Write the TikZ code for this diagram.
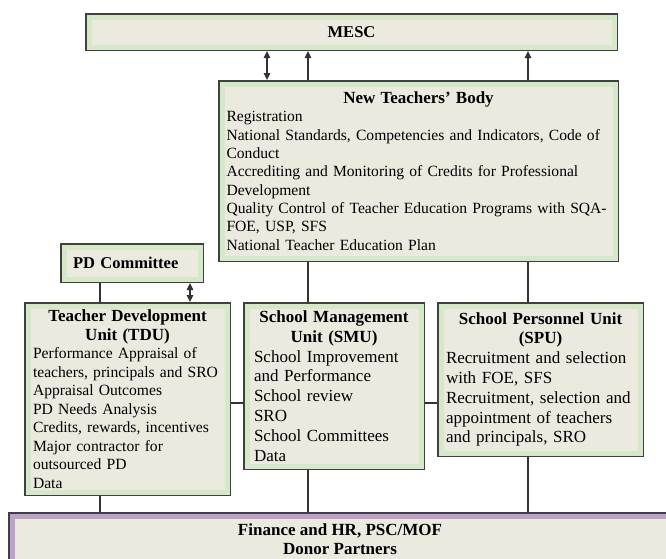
\documentclass[tikz,border=0pt]{standalone}
\usepackage{fontspec}
\setmainfont{Liberation Serif}
\usetikzlibrary{arrows.meta,backgrounds}

\newcommand{\unittitle}[1]{\makebox[\linewidth]{\fontsize{17}{18}\bfseries #1}}

\begin{document}
\begin{tikzpicture}[x=1pt,y=-1pt,
  unitbox/.style={fill=boxfill, draw=boxgreen, line width=5pt,
    preaction={draw=boxedge, line width=8pt}, outer sep=4pt, inner sep=0pt, align=left},
  basebox/.style={unitbox, draw=boxpurple},
  wire/.style={draw=wirecol, line width=1.1pt},
  uparrow/.style={wire, -{Triangle[length=7pt,width=6.5pt]}},
  twoway/.style={wire, {Triangle[length=7pt,width=6.5pt]}-{Triangle[length=7pt,width=6.5pt]}}]
\definecolor{boxfill}{HTML}{ECE9DF}
\definecolor{boxgreen}{HTML}{D5E8C8}
\definecolor{boxpurple}{HTML}{BEA0CD}
\definecolor{boxedge}{HTML}{404040}
\definecolor{wirecol}{HTML}{333333}
\clip (0,0) rectangle (666,558);

\node[unitbox, minimum width=525, minimum height=30, align=center,
  font=\fontsize{16.5}{18}\selectfont\bfseries] (mesc) at (351.5,32) {MESC};

\node[unitbox, minimum width=393, minimum height=174, text width=384,
  font=\fontsize{15.6}{18.3}\selectfont] (ntb) at (418.5,171) {\unittitle{New Teachers’ Body}\\
Registration\\
National Standards, Competencies and Indicators, Code of\\
Conduct\\
Accrediting and Monitoring of Credits for Professional\\
Development\\
Quality Control of Teacher Education Programs with SQA-\\
FOE, USP, SFS\\
National Teacher Education Plan};

\node[unitbox, minimum width=136, minimum height=32, text width=118,
  font=\fontsize{16.5}{18}\selectfont\bfseries] (pdc) at (132,263) {PD Committee};

\node[unitbox, minimum width=199, minimum height=186, text width=189,
  font=\fontsize{15.6}{18.5}\selectfont] (tdu) at (127.5,399) {\unittitle{Teacher Development}\\
\unittitle{Unit (TDU)}\\
Performance Appraisal of\\
teachers, principals and SRO\\
Appraisal Outcomes\\
PD Needs Analysis\\
Credits, rewards, incentives\\
Major contractor for\\
outsourced PD\\
Data};

\node[unitbox, minimum width=174, minimum height=160, text width=160,
  font=\fontsize{17}{19.8}\selectfont] (smu) at (334,386) {\unittitle{School Management}\\
\unittitle{Unit (SMU)}\\
School Improvement\\
and Performance\\
School review\\
SRO\\
School Committees\\
Data};

\node[unitbox, minimum width=199, minimum height=147, text width=189,
  font=\fontsize{17}{19.8}\selectfont] (spu) at (540.5,379.5) {\unittitle{School Personnel Unit}\\
\unittitle{(SPU)}\\
Recruitment and selection\\
with FOE, SFS\\
Recruitment, selection and\\
appointment of teachers\\
and principals, SRO};

\node[basebox, minimum width=656, minimum height=46, align=center,
  font=\fontsize{17}{19}\selectfont\bfseries] (base) at (340,539) {Finance and HR, PSC/MOF\\Donor Partners};

\coordinate (twowayx) at (267,0);
\coordinate (smux) at (308,0);
\coordinate (spux) at (528,0);
\coordinate (tdux) at (100,0);
\coordinate (pdx) at (190,0);
\coordinate (midrow) at (0,403);

\begin{scope}[on background layer]
\draw[twoway] (ntb.north -| twowayx) -- (mesc.south -| twowayx);
\draw[uparrow] (smu.north -| smux) -- (mesc.south -| smux);
\draw[uparrow] (spu.north -| spux) -- (mesc.south -| spux);
\draw[wire] (pdc.south -| tdux) -- (tdu.north -| tdux);
\draw[twoway] (pdc.south -| pdx) -- (tdu.north -| pdx);
\draw[wire] (tdu.east |- midrow) -- (smu.west |- midrow);
\draw[wire] (smu.east |- midrow) -- (spu.west |- midrow);
\draw[wire] (tdu.south -| tdux) -- (base.north -| tdux);
\draw[wire] (smu.south -| smux) -- (base.north -| smux);
\draw[wire] (spu.south -| spux) -- (base.north -| spux);
\end{scope}
\end{tikzpicture}
\end{document}
